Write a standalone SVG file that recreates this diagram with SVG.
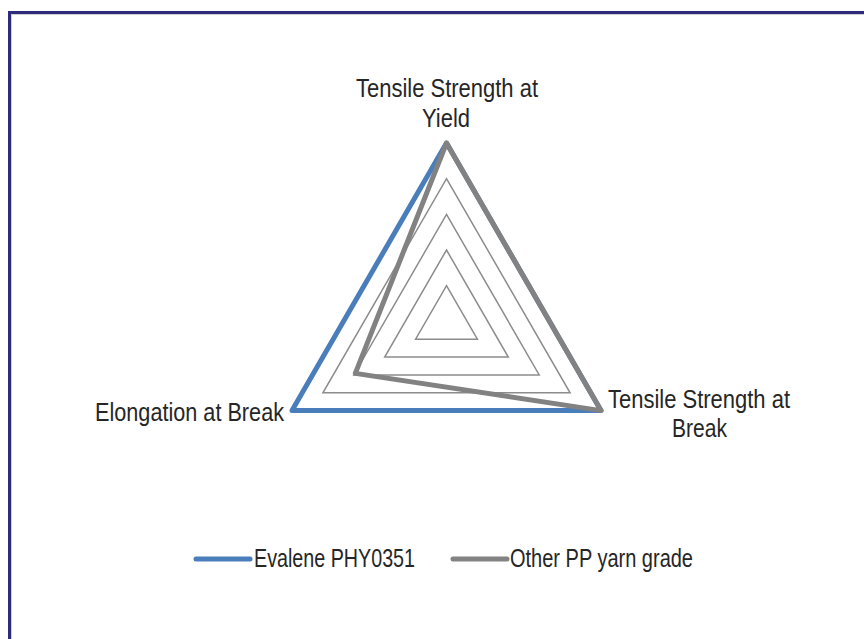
<svg xmlns="http://www.w3.org/2000/svg" width="864" height="639" viewBox="0 0 864 639">
<style>
text{font-family:"Liberation Sans Narrow","Liberation Sans",Arial,sans-serif;font-size:25px;fill:#262626}
.grid{fill:none;stroke:#8c8c8c;stroke-width:1.5}
.blue{fill:none;stroke:#4a7ebb;stroke-width:5;stroke-linejoin:round;stroke-linecap:round}
.gray{fill:none;stroke:#828282;stroke-width:5;stroke-linejoin:round;stroke-linecap:round}
</style>
<rect x="0" y="0" width="864" height="639" fill="#fff"/>
<g id="frame">
<rect x="9.5" y="12.5" width="900" height="700" fill="none" stroke="#2e2b7a" stroke-width="3"/>
<rect x="11.5" y="14.5" width="900" height="700" fill="none" stroke="#cfcfcf" stroke-width="1"/>
</g>
<g id="grid">
<polygon class="grid" points="446.5,285.7 477.4,339.2 415.6,339.2"/>
<polygon class="grid" points="446.5,250.0 508.3,357.0 384.7,357.0"/>
<polygon class="grid" points="446.5,214.4 539.2,374.9 353.8,374.9"/>
<polygon class="grid" points="446.5,178.7 570.1,392.8 322.9,392.8"/>
</g>
<g id="connectors">
<polygon id="series-evalene" class="blue" points="446.5,143 601,410.6 292,410.6"/>
<polygon id="series-other" class="gray" points="446.5,143 601,410.6 355.3,373.4"/>
</g>
<g id="label-yield">
<text x="447" y="97" text-anchor="middle" textLength="182" lengthAdjust="spacingAndGlyphs">Tensile Strength at</text>
<text x="446" y="127" text-anchor="middle" textLength="48" lengthAdjust="spacingAndGlyphs">Yield</text>
</g>
<g id="label-elongation">
<text x="95" y="421" textLength="189" lengthAdjust="spacingAndGlyphs">Elongation at Break</text>
</g>
<g id="label-break">
<text x="608" y="408" textLength="182" lengthAdjust="spacingAndGlyphs">Tensile Strength at</text>
<text x="672" y="437" textLength="55" lengthAdjust="spacingAndGlyphs">Break</text>
</g>
<g id="legend">
<line x1="196" y1="559" x2="250" y2="559" class="blue"/>
<text x="254" y="567" textLength="161" lengthAdjust="spacingAndGlyphs">Evalene PHY0351</text>
<line x1="453" y1="559" x2="507" y2="559" class="gray"/>
<text x="510" y="567" textLength="183" lengthAdjust="spacingAndGlyphs">Other PP yarn grade</text>
</g>
</svg>
